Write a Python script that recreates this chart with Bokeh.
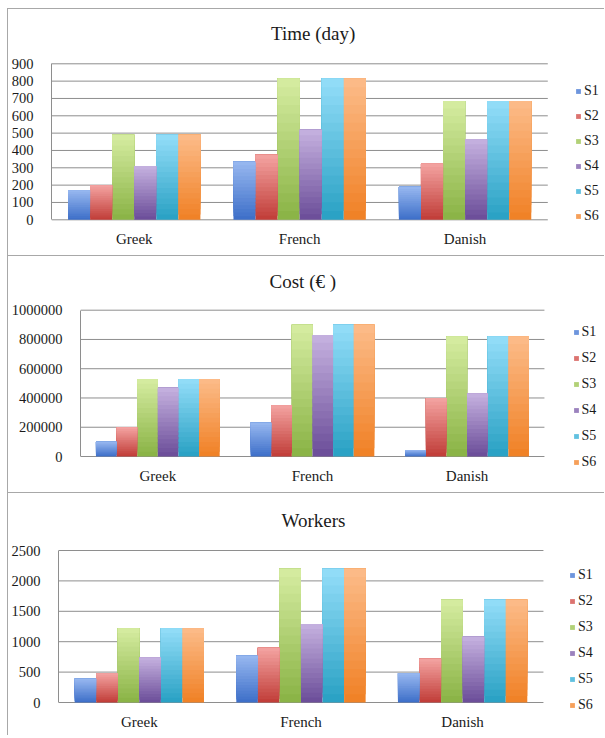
from bokeh.plotting import figure
from bokeh.models import (ColumnDataSource, FixedTicker, Label, Legend,
                          LegendItem, BasicTickFormatter, Range1d)
from bokeh.embed import file_html
from bokeh.resources import INLINE

# ---- data -------------------------------------------------------------
categories = ["Greek", "French", "Danish"]
series = ["S1", "S2", "S3", "S4", "S5", "S6"]

time_s1 = [170, 335, 190]
time_s2 = [200, 375, 325]
time_s3 = [490, 815, 685]
time_s4 = [310, 520, 465]
time_s5 = [490, 815, 685]
time_s6 = [490, 815, 685]
time_ticks = [0, 100, 200, 300, 400, 500, 600, 700, 800, 900]

cost_s1 = [100000, 230000, 45000]
cost_s2 = [200000, 350000, 400000]
cost_s3 = [530000, 900000, 820000]
cost_s4 = [470000, 830000, 430000]
cost_s5 = [530000, 900000, 820000]
cost_s6 = [530000, 900000, 820000]
cost_ticks = [0, 200000, 400000, 600000, 800000, 1000000]

workers_s1 = [390, 770, 480]
workers_s2 = [480, 900, 720]
workers_s3 = [1220, 2200, 1690]
workers_s4 = [740, 1290, 1080]
workers_s5 = [1220, 2200, 1690]
workers_s6 = [1220, 2200, 1690]
workers_ticks = [0, 500, 1000, 1500, 2000, 2500]

# ---- styling ----------------------------------------------------------
FONT = "Liberation Serif"
TEXT = "#1a1a1a"
GRID = "#8e8e8e"
FRAME = "1px solid #a8a8a8"
PAGE_W = 605
CANVAS_W = 597

# darker base (bottom) and lighter top of each series' gradient
dark = ["#3c6ec8", "#c03c37", "#89b244", "#6a4c98", "#28a0c3", "#f08024"]
light = ["#98b8f0", "#f4a4a2", "#d6eda2", "#c6b2e0", "#94def9", "#fcbc8a"]
LAYERS = 16
GROUP = 0.8
LABEL_H = 17


def hex_rgb(h):
    h = h.lstrip("#")
    return tuple(int(h[i:i + 2], 16) for i in (0, 2, 4))


def blend(c1, c2, t):
    a, b = hex_rgb(c1), hex_rgb(c2)
    return "#%02x%02x%02x" % tuple(round(a[i] + (b[i] - a[i]) * t) for i in range(3))


def panel(title, values, ticks, origin, height, area, frame_bottom,
          label_y, title_xy, legend_x, legend_top, legend_gap, margin, styles):
    """origin: page position of the canvas; area: page box (left, right,
    top, bottom) spanned by the categories and by 0..max of the y ticks."""
    ox, oy = origin
    L, R, T, B = area
    ncat = len(categories)
    ymax = ticks[-1]
    sx = (R - L) / ncat
    sy = (B - T) / ymax
    x_range = Range1d(0, (PAGE_W - L) / sx)
    y_range = Range1d(-(frame_bottom - B) / sy, ymax + (T - oy) / sy)

    p = figure(width=CANVAS_W, height=height, output_backend="svg",
               toolbar_location=None, title=None,
               x_range=x_range, y_range=y_range,
               min_border_left=int(round(L - ox)), min_border_right=0,
               min_border_top=0,
               min_border_bottom=int(round(oy + height - frame_bottom)),
               margin=margin, styles=styles)
    p.outline_line_color = None
    p.background_fill_color = "white"
    p.border_fill_color = "white"
    p.xgrid.visible = False
    p.ygrid.visible = False

    # horizontal gridlines across the category span
    p.segment(x0=[0] * len(ticks), x1=[ncat] * len(ticks), y0=ticks, y1=ticks,
              line_color=GRID, line_width=1)

    n = len(series)
    w = GROUP / n
    xs, bots, tops, cols = [], [], [], []
    for k in range(LAYERS):
        f = (k + 0.5) / LAYERS
        for i in range(n):
            c = blend(dark[i], light[i], f)
            for j in range(ncat):
                v = values[i][j]
                xs.append(j + 0.5 + (i - (n - 1) / 2) * w)
                bots.append(v * k / LAYERS)
                tops.append(v)
                cols.append(c)
    src = ColumnDataSource(dict(x=xs, bottom=bots, top=tops, color=cols))
    r = p.vbar(x="x", bottom="bottom", top="top", width=w, source=src,
               fill_color="color", line_color=None)

    # axes
    p.xaxis.ticker = FixedTicker(ticks=[j + 0.5 for j in range(ncat)])
    p.xaxis.major_label_overrides = {j + 0.5: c for j, c in enumerate(categories)}
    p.xaxis.axis_line_color = None
    p.xaxis.major_label_text_font_size = "15px"
    p.xaxis.major_label_standoff = int(round(label_y - 15 - frame_bottom))
    p.yaxis.ticker = FixedTicker(ticks=ticks)
    p.yaxis.formatter = BasicTickFormatter(use_scientific=False)
    p.yaxis.bounds = (0, ymax)
    p.yaxis.axis_line_color = GRID
    p.yaxis.major_label_text_font_size = "14.5px"
    p.yaxis.major_label_standoff = 12
    for ax in (p.xaxis[0], p.yaxis[0]):
        ax.major_tick_line_color = None
        ax.minor_tick_line_color = None
        ax.major_label_text_font = FONT
        ax.major_label_text_color = TEXT

    # legend
    mid = (LAYERS // 2) * n * ncat
    items = [LegendItem(label=s, renderers=[r], index=mid + i * ncat)
             for i, s in enumerate(series)]
    leg_h = n * LABEL_H + (n - 1) * legend_gap
    leg = Legend(items=items,
                 location=(legend_x - L, frame_bottom - (legend_top + leg_h)),
                 glyph_width=6, glyph_height=6,
                 label_height=LABEL_H, spacing=legend_gap, label_standoff=3,
                 padding=0, margin=0, border_line_color=None,
                 background_fill_alpha=0, label_text_font=FONT,
                 label_text_font_size="14px", label_text_color=TEXT)
    p.add_layout(leg)

    # chart title
    p.add_layout(Label(x=title_xy[0] - L, y=frame_bottom - title_xy[1],
                       x_units="screen", y_units="screen", text=title,
                       text_align="center", text_baseline="middle",
                       text_font=FONT, text_font_size="19px", text_color=TEXT))
    return p


p1 = panel("Time (day)",
           [time_s1, time_s2, time_s3, time_s4, time_s5, time_s6],
           time_ticks, (8, 9), 248, (48, 547, 63.3, 219.3), 225, 239,
           (309.6, 33), 572, 90.7 - LABEL_H / 2, 8,
           (8, 0, 0, 7),
           {"border-left": FRAME, "border-top": FRAME, "border-bottom": FRAME})
p2 = panel("Cost (€ )",
           [cost_s1, cost_s2, cost_s3, cost_s4, cost_s5, cost_s6],
           cost_ticks, (8, 258), 237, (80.5, 544, 311.7, 458), 472, 477.7,
           (302.8, 283), 573, 334 - LABEL_H / 2, 9,
           (0, 0, 0, 7),
           {"border-left": FRAME, "border-bottom": FRAME})
p3 = panel("Workers",
           [workers_s1, workers_s2, workers_s3, workers_s4, workers_s5, workers_s6],
           workers_ticks, (8, 496), 242, (58.5, 543, 553, 705), 716, 725,
           (313.5, 522.7), 569.5, 578 - LABEL_H / 2, 9,
           (0, 0, 0, 7),
           {"border-left": FRAME})

open("out.html", "w").write(file_html([p1, p2, p3], INLINE))
